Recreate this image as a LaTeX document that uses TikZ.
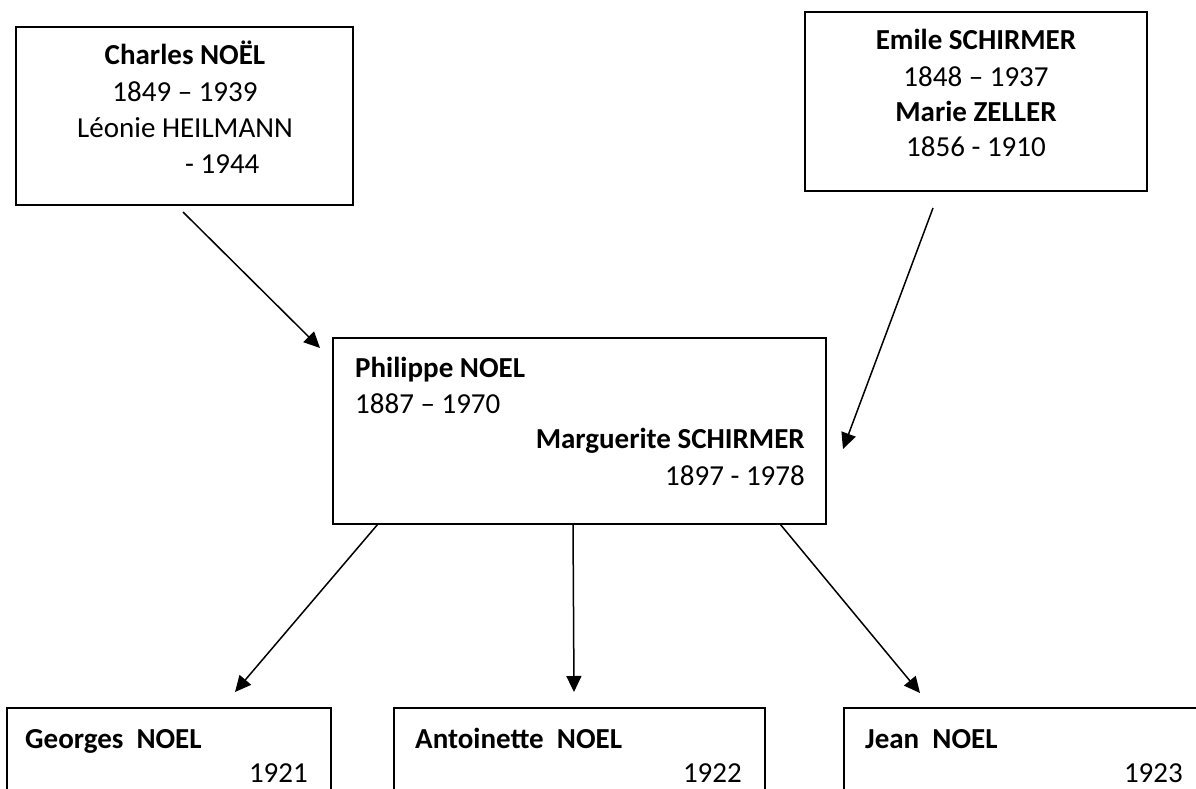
\documentclass[tikz,border=0pt]{standalone}
\usepackage{fontspec}
\setmainfont{Carlito}
\usetikzlibrary{arrows.meta}
\begin{document}
\begin{tikzpicture}[x=1pt,y=-1pt,
  box/.style={draw, line width=1.8pt, inner sep=0pt, outer sep=0pt},
  txt/.style={inner sep=0pt, font=\fontsize{29}{36}\selectfont},
  btxt/.style={inner sep=0pt, font=\fontsize{29}{36}\selectfont\bfseries},
  link/.style={line width=1.5pt, -{Triangle[length=16pt,width=15pt]}}]
\useasboundingbox (0,0) rectangle (1196,789);
\clip (0,0) rectangle (1196,789);
\fill[white] (0,0) rectangle (1196,789);
% boxes
\node[box, minimum width=337pt, minimum height=178pt] (charles) at (184.5,116) {};
\node[box, minimum width=342pt, minimum height=179pt] (emile) at (976,101.5) {};
\node[box, minimum width=493pt, minimum height=186pt] (philippe) at (579.5,431) {};
\node[box, minimum width=324pt, minimum height=160pt] (georges) at (169,788) {};
\node[box, minimum width=371pt, minimum height=160pt] (antoinette) at (579.5,788) {};
\node[box, minimum width=362pt, minimum height=160pt] (jean) at (1025,788) {};
% texts: Charles box
\node[btxt, anchor=base] (t1) at (185,65) {Charles NOËL};
\node[txt, anchor=base] (t2) at (185,102) {1849 – 1939};
\node[txt, anchor=base] (t3) at (185,137) {Léonie HEILMANN};
\node[txt, anchor=base west] (t4) at (185,173) {- 1944};
% Emile box
\node[btxt, anchor=base] (t5) at (976,50) {Emile SCHIRMER};
\node[txt, anchor=base] (t6) at (976,87) {1848 – 1937};
\node[btxt, anchor=base] (t7) at (976,122) {Marie ZELLER};
\node[txt, anchor=base] (t8) at (976,157) {1856 - 1910};
% Philippe box
\node[btxt, anchor=base west] (t9) at (355,377) {Philippe NOEL};
\node[txt, anchor=base west] (t10) at (355,413) {1887 – 1970};
\node[btxt, anchor=base east] (t11) at (805,448) {Marguerite SCHIRMER};
\node[txt, anchor=base east] (t12) at (805,485) {1897 - 1978};
% children
\node[btxt, anchor=base west] (t13) at (25,748) {Georges\ \ NOEL};
\node[txt, anchor=base east] (t14) at (308,782) {1921};
\node[btxt, anchor=base west] (t15) at (415,748) {Antoinette\ \ NOEL};
\node[txt, anchor=base east] (t16) at (742,782) {1922};
\node[btxt, anchor=base west] (t17) at (865,748) {Jean\ \ NOEL};
\node[txt, anchor=base east] (t18) at (1183,782) {1923};
% connectors
\coordinate (a1s) at (183,212); \coordinate (a1e) at (320,348);
\coordinate (a2s) at (933,208); \coordinate (a2e) at (843,449);
\coordinate (a3s) at (378,524); \coordinate (a3e) at (235,692);
\coordinate (a4s) at (573,524); \coordinate (a4e) at (574,692);
\coordinate (a5s) at (780,524); \coordinate (a5e) at (920,693);
\draw[link] (a1s) -- (a1e);
\draw[link] (a2s) -- (a2e);
\draw[link] (a3s) -- (a3e);
\draw[link] (a4s) -- (a4e);
\draw[link] (a5s) -- (a5e);
\end{tikzpicture}
\end{document}
